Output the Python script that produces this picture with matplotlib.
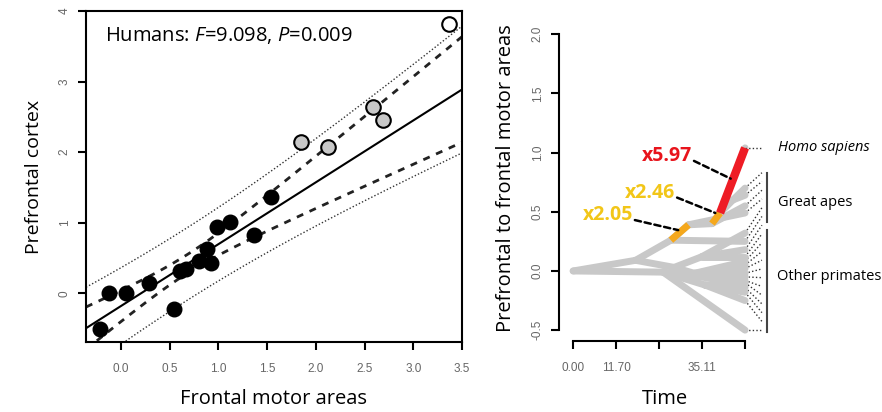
import numpy as np
import matplotlib.pyplot as plt

plt.rcParams['font.family'] = ['Open Sans', 'DejaVu Sans']
plt.rcParams['mathtext.fontset'] = 'custom'
plt.rcParams['mathtext.rm'] = 'Open Sans'
plt.rcParams['mathtext.it'] = 'Open Sans:italic'

# ---- left panel: prefrontal vs frontal motor areas ----
monkey_x = [-0.22, -0.12, 0.05, 0.29, 0.54, 0.61, 0.67, 0.80, 0.88, 0.92, 0.99, 1.12, 1.36, 1.54]
monkey_y = [-0.51, 0.01, 0.01, 0.14, -0.22, 0.32, 0.35, 0.46, 0.63, 0.43, 0.94, 1.01, 0.82, 1.36]
ape_x = [1.85, 2.12, 2.59, 2.69]
ape_y = [2.14, 2.07, 2.64, 2.45]
human_x = [3.37]
human_y = [3.82]
t_crit = 2.179  # t quantile 0.975, df = 12

# ---- right panel: traitgram (time, value, parent) ----
tree_time = [0.0, 17.0, 26.6, 31.4, 37.8, 40.0, 46.81, 43.5, 46.81, 46.81, 46.81, 46.81, 46.81,
             27.5, 35.0, 46.81, 46.81, 46.81, 33.0, 46.81, 46.81, 46.81,
             24.5, 32.0, 46.81, 46.81, 46.81, 36.0, 46.81, 46.81, 46.81, 46.81, 46.81]
tree_value = [0.00, 0.09, 0.26, 0.39, 0.40, 0.49, 1.04, 0.60, 0.70, 0.64, 0.55, 0.49, 0.25,
              0.03, 0.12, 0.32, 0.18, 0.12, -0.02, 0.08, 0.02, -0.05,
              -0.01, -0.04, 0.05, -0.02, -0.10, -0.12, -0.08, -0.14, -0.18, -0.25, -0.50]
tree_parent = [-1, 0, 1, 2, 3, 4, 5, 5, 7, 7, 4, 3, 2,
               1, 13, 14, 14, 14, 13, 18, 18, 18,
               0, 22, 23, 23, 23, 22, 27, 27, 27, 27, 22]
human_node = 6
orange_branches = [3, 5]
red_branches = [6]
rate_labels = ['x2.05', 'x2.46', 'x5.97']
time_ticks = [0.0, 11.70, 23.41, 35.11, 46.81]
time_labels = ['0.00', '11.70', '', '35.11', '']

fig = plt.figure(figsize=(8.82, 4.12), dpi=100)

# ================= left panel =================
ax = fig.add_axes([0.0975, 0.170, 0.4263, 0.803])
mx = np.array(monkey_x)
my = np.array(monkey_y)
n = len(mx)
slope, icept = np.polyfit(mx, my, 1)
resid = my - (icept + slope * mx)
s = np.sqrt(np.sum(resid ** 2) / (n - 2))
sxx = np.sum((mx - mx.mean()) ** 2)
xs = np.linspace(-0.36, 3.5, 200)
fit = icept + slope * xs
ci = t_crit * s * np.sqrt(1 / n + (xs - mx.mean()) ** 2 / sxx)
pi = t_crit * s * np.sqrt(1 + 1 / n + (xs - mx.mean()) ** 2 / sxx)

ax.plot(xs, fit, color='black', lw=1.5)
ax.plot(xs, fit + ci, color='#222222', lw=2, ls=(0, (2.5, 2.5)))
ax.plot(xs, fit - ci, color='#222222', lw=2, ls=(0, (2.5, 2.5)))
ax.plot(xs, fit + pi, color='#333333', lw=1, ls=(0, (1, 1.5)))
ax.plot(xs, fit - pi, color='#333333', lw=1, ls=(0, (1, 1.5)))

ax.scatter(monkey_x, monkey_y, s=110, c='black', edgecolors='black', zorder=3)
ax.scatter(ape_x, ape_y, s=110, c='#c8c8c8', edgecolors='black', linewidths=1.5, zorder=3)
ax.scatter(human_x, human_y, s=110, c='white', edgecolors='black', linewidths=1.5, zorder=3)

ax.set_xlim(-0.36, 3.5)
ax.set_ylim(-0.69, 4.0)
ax.set_xticks([0, 0.5, 1.0, 1.5, 2.0, 2.5, 3.0, 3.5])
ax.set_xticklabels(['0.0', '0.5', '1.0', '1.5', '2.0', '2.5', '3.0', '3.5'])
ax.set_yticks([0, 1, 2, 3, 4])
ax.set_yticklabels(['0', '1', '2', '3', '4'], rotation=90, va='center')
for sp in ax.spines.values():
    sp.set_linewidth(1.5)
ax.tick_params(length=6, width=1.5, labelsize=8.5, labelcolor='#666666', pad=5)
ax.tick_params(axis='x', pad=9)
for lab in ax.get_xticklabels() + ax.get_yticklabels():
    lab.set_family('Liberation Sans')
ax.set_xlabel('Frontal motor areas', fontsize=14.5, labelpad=10)
ax.set_ylabel('Prefrontal cortex', fontsize=14, labelpad=11)
ax.text(-0.16, 3.65, 'Humans: $F$=9.098, $P$=0.009', fontsize=14.5, va='center')

# ================= right panel =================
bx = fig.add_axes([0.634, 0.172, 0.366, 0.7448])
bx.set_xlim(-3.81, 84.1)
bx.set_ylim(-0.593, 2.0)

grey = '#c8c8c8'
for i, p in enumerate(tree_parent):
    if p < 0:
        continue
    bx.plot([tree_time[p], tree_time[i]], [tree_value[p], tree_value[i]],
            color=grey, lw=5, solid_capstyle='round', zorder=2)
for i in orange_branches:
    p = tree_parent[i]
    bx.plot([tree_time[p], tree_time[i]], [tree_value[p], tree_value[i]],
            color='#f5a81c', lw=5, solid_capstyle='butt', zorder=3)
for i in red_branches:
    p = tree_parent[i]
    bx.plot([tree_time[p], tree_time[i]], [tree_value[p], tree_value[i]],
            color='#ee1c25', lw=6, solid_capstyle='butt', zorder=4)

# dotted links from tips to label slots
tips = [i for i in range(len(tree_parent)) if i not in tree_parent and i != human_node]
tips = sorted(tips, key=lambda i: -tree_value[i])
slots = np.linspace(0.83, -0.5, len(tips))
t_end = max(tree_time)
for i, sy in zip(tips, slots):
    bx.plot([t_end, 51.4], [tree_value[i], sy], color='#333333', lw=1, ls=(0, (1, 1.6)), zorder=1)
bx.plot([t_end, 51.4], [tree_value[human_node]] * 2, color='#333333', lw=1, ls=(0, (1, 1.6)))

# group brackets and names
bx.plot([52.8, 52.8], [0.83, 0.41], color='#444444', lw=1.5)
bx.plot([52.8, 52.8], [0.345, -0.52], color='#444444', lw=1.5)
bx.text(55.8, tree_value[human_node], 'Homo sapiens', style='italic', fontsize=10.5, va='center')
bx.text(55.9, 0.58, 'Great apes', fontsize=10.5, va='center')
bx.text(55.6, -0.05, 'Other primates', fontsize=10.5, va='center')

# rate annotations
rate_text_pos = [(9.5, 0.47), (21.0, 0.66), (25.6, 0.97)]
rate_tip_pos = [(28.6, 0.345), (38.7, 0.49), (42.9, 0.78)]
rate_colors = ['#f2c618', '#f2c618', '#e8141c']
for lab, tp, ep, c in zip(rate_labels, rate_text_pos, rate_tip_pos, rate_colors):
    bx.text(tp[0], tp[1], lab, color=c, fontsize=14, fontweight='bold',
            ha='center', va='center', zorder=5)
    bx.annotate('', xy=ep, xytext=(tp[0] + 7.3, tp[1] - 0.04),
                arrowprops=dict(arrowstyle='-', color='black', lw=1.8, ls=(0, (2.5, 1.5)),
                                shrinkA=0, shrinkB=0), zorder=5)

bx.spines['top'].set_visible(False)
bx.spines['right'].set_visible(False)
bx.spines['left'].set_bounds(-0.5, 2.0)
bx.spines['bottom'].set_bounds(0, t_end)
bx.spines['left'].set_linewidth(1.5)
bx.spines['bottom'].set_linewidth(1.5)
bx.set_xticks(time_ticks)
bx.set_xticklabels(time_labels)
bx.set_yticks([-0.5, 0.0, 0.5, 1.0, 1.5, 2.0])
bx.set_yticklabels(['-0.5', '0.0', '0.5', '1.0', '1.5', '2.0'], rotation=90, va='center')
bx.tick_params(length=6, width=1.5, labelsize=8.5, labelcolor='#666666', pad=5)
bx.tick_params(axis='x', pad=9)
for lab in bx.get_xticklabels() + bx.get_yticklabels():
    lab.set_family('Liberation Sans')
bx.set_xlabel('Time', fontsize=14.5)
bx.xaxis.set_label_coords((665 - 559) / (882 - 559), -0.155)
bx.set_ylabel('Prefrontal to frontal motor areas', fontsize=14.5)
bx.yaxis.set_label_coords(-0.135, 0.53)

fig.savefig('out.png', dpi=100)
